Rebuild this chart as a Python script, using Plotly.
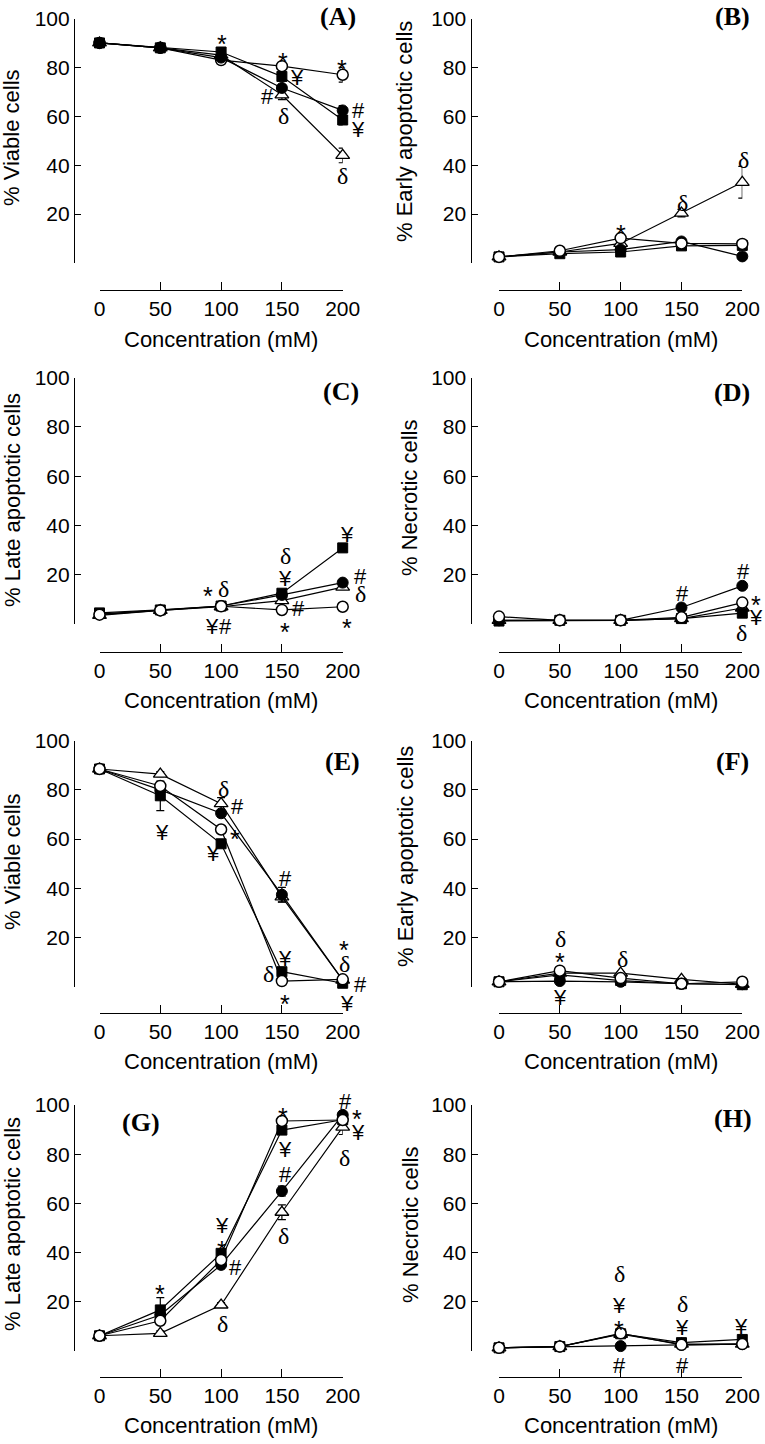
import plotly.graph_objects as go

W, H = 765, 1444

conc = [0, 50, 100, 150, 200]
ytick_vals = [0, 20, 40, 60, 80, 100]
ytick_text = ["", "20", "40", "60", "80", "100"]
xtick_text = ["0", "50", "100", "150", "200"]

# ---- values (open circle, filled circle, open triangle, filled square)
A_open = [90.0, 88.0, 83.0, 80.5, 77.0]
A_filled = [90.0, 88.0, 84.0, 71.6, 62.4]
A_tri = [90.0, 88.0, 85.0, 68.8, 44.0]
A_sq = [90.0, 88.0, 86.3, 76.3, 58.5]
A_err = dict(open=[0.5, 0.5, 0.5, 1.0, 3.0], filled=[0.5, 0.5, 0.5, 1.0, 2.0],
             tri=[0.5, 0.5, 0.5, 2.0, 3.0], sq=[0.5, 0.5, 1.0, 1.0, 2.0])

B_open = [2.5, 5.0, 10.2, 8.0, 7.8]
B_filled = [2.5, 4.5, 5.5, 8.8, 2.7]
B_tri = [2.5, 4.5, 8.0, 20.4, 33.0]
B_sq = [2.5, 3.8, 4.5, 7.0, 7.2]
B_err = dict(open=[0.3, 0.5, 1.0, 0.5, 1.0], filled=[0.3, 0.5, 0.5, 0.5, 0.5],
             tri=[0.3, 0.5, 1.0, 1.5, 6.5], sq=[0.3, 0.5, 0.5, 0.5, 0.5])

C_open = [3.8, 5.5, 7.2, 5.7, 7.0]
C_filled = [4.0, 5.5, 7.3, 11.8, 16.8]
C_tri = [3.5, 5.5, 7.0, 9.5, 15.0]
C_sq = [4.5, 5.7, 7.3, 12.5, 30.9]
C_err = dict(open=[0.5] * 5, filled=[0.5] * 5, tri=[0.5] * 5, sq=[0.5, 0.5, 0.5, 1.0, 1.0])

D_open = [3.0, 1.5, 1.5, 2.7, 8.7]
D_filled = [1.5, 1.5, 1.5, 6.7, 15.5]
D_tri = [1.5, 1.5, 1.5, 2.2, 6.5]
D_sq = [1.2, 1.5, 1.5, 2.2, 4.4]
D_err = dict(open=[0.5] * 5, filled=[0.5] * 5, tri=[0.5] * 5, sq=[0.5] * 5)

E_open = [88.5, 81.6, 63.9, 2.3, 3.0]
E_filled = [88.5, 80.0, 70.5, 37.4, 2.7]
E_tri = [88.5, 86.4, 74.4, 36.5, 2.7]
E_sq = [88.5, 77.6, 58.1, 6.1, 1.4]
E_err = dict(open=[0.5, 1.0, 1.0, 1.0, 1.0], filled=[0.5, 1.0, 1.0, 3.0, 1.0],
             tri=[0.5, 1.0, 2.5, 2.0, 2.0], sq=[0.5, 6.0, 1.0, 1.0, 1.0])

F_open = [2.0, 6.5, 3.5, 1.2, 2.0]
F_filled = [2.0, 2.3, 2.0, 1.2, 1.0]
F_tri = [2.0, 5.5, 5.5, 3.0, 1.0]
F_sq = [2.0, 4.8, 2.5, 1.2, 0.8]
F_err = dict(open=[0.5] * 5, filled=[0.5] * 5, tri=[0.5] * 5, sq=[0.5] * 5)

G_open = [6.2, 12.3, 37.0, 93.5, 93.9]
G_filled = [6.2, 14.6, 35.0, 65.0, 96.0]
G_tri = [6.2, 7.2, 18.7, 56.4, 91.0]
G_sq = [6.2, 16.7, 39.7, 89.8, 94.0]
G_err = dict(open=[0.5, 1.0, 1.0, 1.0, 1.0], filled=[0.5, 1.0, 1.5, 2.0, 1.0],
             tri=[0.5, 1.0, 1.0, 3.0, 3.0], sq=[0.5, 5.0, 1.0, 1.0, 1.0])

H_open = [1.3, 1.8, 7.2, 2.5, 2.8]
H_filled = [1.3, 1.8, 2.0, 2.5, 2.8]
H_tri = [1.3, 1.8, 6.8, 2.8, 2.8]
H_sq = [1.3, 1.8, 7.0, 3.4, 4.7]
H_err = dict(open=[0.5] * 5, filled=[0.5] * 5, tri=[0.5] * 5, sq=[0.5] * 5)

# significance symbols (concentration, value, symbol)
A_marks = [(100.5, 92.3, "*"), (150.7, 85.0, "*"), (162.5, 76.8, "¥"), (137.8, 69.0, "#"),
           (151.0, 60.4, "δ"), (199.5, 82.1, "*"), (212.7, 63.3, "#"), (212.7, 55.5, "¥"),
           (200.0, 35.9, "δ")]
B_marks = [(100.4, 14.9, "*"), (150.6, 25.1, "δ"), (200.8, 42.7, "δ")]
C_marks = [(89.3, 14.2, "*"), (101.6, 14.6, "δ"), (92.6, -0.4, "¥"), (103.3, -0.4, "#"),
           (152.6, 28.0, "δ"), (152.6, 19.1, "¥"), (163.3, 7.3, "#"), (152.6, -0.4, "*"),
           (203.6, 37.0, "¥"), (214.3, 19.9, "#"), (214.3, 12.6, "δ"), (203.6, 1.2, "*")]
D_marks = [(150.6, 13.0, "#"), (200.8, 22.3, "#"), (211.5, 10.6, "*"), (211.5, 3.5, "¥"),
           (199.2, -3.4, "δ")]
E_marks = [(51.4, 63.7, "¥"), (101.6, 80.8, "δ"), (113.1, 73.9, "#"), (93.4, 54.8, "¥"),
           (111.5, 62.9, "*"), (152.6, 44.6, "#"), (152.6, 12.1, "¥"), (138.6, 5.6, "δ"),
           (152.6, -4.2, "*"), (201.2, 17.8, "*"), (201.2, 9.8, "δ"), (214.3, 1.9, "#"),
           (203.6, -6.2, "¥")]
F_marks = [(50.2, 19.8, "δ"), (50.2, 12.9, "*"), (50.2, -3.4, "¥"), (101.2, 11.7, "δ")]
G_marks = [(49.8, 26.0, "*"), (100.8, 52.0, "¥"), (100.8, 43.9, "*"), (111.5, 34.6, "#"),
           (100.8, 11.4, "δ"), (151.0, 98.0, "*"), (152.6, 82.9, "¥"), (152.6, 72.4, "#"),
           (151.0, 47.2, "δ"), (201.9, 102.4, "#"), (211.8, 97.2, "*"), (212.7, 89.6, "¥"),
           (201.2, 78.9, "δ")]
H_marks = [(98.8, 31.7, "δ"), (98.8, 19.5, "¥"), (98.8, 11.4, "*"), (98.8, -4.9, "#"),
           (150.6, 19.5, "δ"), (150.6, 10.2, "¥"), (150.6, -4.9, "#"), (199.2, 10.6, "¥")]

panels = [
    dict(label="(A)", ytitle="% Viable cells", data=dict(open=A_open, filled=A_filled, tri=A_tri, sq=A_sq), err=A_err, marks=A_marks),
    dict(label="(B)", ytitle="% Early apoptotic cells", data=dict(open=B_open, filled=B_filled, tri=B_tri, sq=B_sq), err=B_err, marks=B_marks),
    dict(label="(C)", ytitle="% Late apoptotic cells", data=dict(open=C_open, filled=C_filled, tri=C_tri, sq=C_sq), err=C_err, marks=C_marks),
    dict(label="(D)", ytitle="% Necrotic cells", data=dict(open=D_open, filled=D_filled, tri=D_tri, sq=D_sq), err=D_err, marks=D_marks),
    dict(label="(E)", ytitle="% Viable cells", data=dict(open=E_open, filled=E_filled, tri=E_tri, sq=E_sq), err=E_err, marks=E_marks),
    dict(label="(F)", ytitle="% Early apoptotic cells", data=dict(open=F_open, filled=F_filled, tri=F_tri, sq=F_sq), err=F_err, marks=F_marks),
    dict(label="(G)", ytitle="% Late apoptotic cells", data=dict(open=G_open, filled=G_filled, tri=G_tri, sq=G_sq), err=G_err, marks=G_marks),
    dict(label="(H)", ytitle="% Necrotic cells", data=dict(open=H_open, filled=H_filled, tri=H_tri, sq=H_sq), err=H_err, marks=H_marks),
]

# ---- layout geometry (pixels)
col_geom = [dict(x0=99.5, x200=342.7, yline=74.0), dict(x0=499.0, x200=742.3, yline=470.5)]
row_geom = [dict(y100=18.5, y0=263.0, xline=290.0),
            dict(y100=377.7, y0=624.0, xline=651.7),
            dict(y100=740.7, y0=986.7, xline=1012.7),
            dict(y100=1105.0, y0=1351.0, xline=1376.7)]
label_pos = [(338, 16), (732, 16), (341, 391), (732, 392), (342, 762), (732, 762), (141, 1122), (733, 1118)]
ytitle_pos = [(12, 138), (404, 132), (12, 500), (410, 498), (12, 862), (405, 857), (12, 1224), (410, 1225)]

SANS = "Liberation Sans, Arial, Helvetica, sans-serif"
SERIF = "Liberation Serif, Times New Roman, serif"

styles = {
    "tri": dict(symbol="triangle-up", size=12, color="white", line=dict(color="black", width=1.3)),
    "open": dict(symbol="circle", size=11, color="white", line=dict(color="black", width=1.5)),
    "filled": dict(symbol="circle", size=11, color="black", line=dict(color="black", width=1)),
    "sq": dict(symbol="square", size=10, color="black", line=dict(color="black", width=1)),
}
orders = [["tri", "open", "filled", "sq"]] + [["tri", "filled", "sq", "open"]] * 7


def px_x(p):
    return p / W


def px_y(p):
    return 1 - p / H


fig = go.Figure()
layout = dict(width=W, height=H, template="none",
              margin=dict(l=0, r=0, t=0, b=0, pad=0, autoexpand=False),
              paper_bgcolor="white", plot_bgcolor="rgba(0,0,0,0)", showlegend=False,
              font=dict(family=SANS, color="black"))
annotations = []

for i, p in enumerate(panels):
    n = i + 1
    r, c = divmod(i, 2)
    cg, rg = col_geom[c], row_geom[r]
    xname = "x" if n == 1 else f"x{n}"
    yname = "y" if n == 1 else f"y{n}"
    xkey = "xaxis" if n == 1 else f"xaxis{n}"
    ykey = "yaxis" if n == 1 else f"yaxis{n}"
    xscale = (cg["x200"] - cg["x0"]) / 200.0   # px per mM
    yscale = (rg["y0"] - rg["y100"]) / 100.0   # px per %

    layout[xkey] = dict(domain=[px_x(cg["x0"]), px_x(cg["x200"])], range=[0, 200],
                        anchor="free", position=px_y(rg["xline"]), automargin=False,
                        tickvals=conc, ticktext=xtick_text, ticks="inside", ticklen=8,
                        tickwidth=1.2, tickcolor="black", showline=True, linewidth=1.2,
                        linecolor="black", showgrid=False, zeroline=False,
                        tickfont=dict(family=SANS, size=21, color="black"))
    layout[ykey] = dict(domain=[px_y(rg["y0"]), px_y(rg["y100"])], range=[0, 100],
                        anchor="free", position=px_x(cg["yline"]), automargin=False,
                        tickvals=ytick_vals, ticktext=ytick_text, ticks="inside", ticklen=6,
                        tickwidth=1.2, tickcolor="black", showline=True, linewidth=1.2,
                        linecolor="black", showgrid=False, zeroline=False,
                        tickfont=dict(family=SANS, size=21, color="black"))

    for key in orders[i]:
        fig.add_trace(go.Scatter(
            x=conc, y=p["data"][key], mode="lines+markers", xaxis=xname, yaxis=yname,
            line=dict(color="black", width=1.2), marker=styles[key], cliponaxis=False,
            error_y=dict(type="data", array=p["err"][key], visible=True, color="black",
                         thickness=1.2, width=4),
            showlegend=False, hoverinfo="skip"))

    for (mx, my, s) in p["marks"]:
        if s == "δ":
            f = dict(family=SERIF, size=24, color="black")
            ys = -1
        elif s == "*":
            f = dict(family=SANS, size=25, color="black")
            ys = -7
        else:
            f = dict(family=SANS, size=22, color="black")
            ys = -2
        # keep anchor inside the axis range, express the overflow as a pixel shift
        cx = min(max(mx, 0), 200)
        cy = min(max(my, 0), 100)
        xs = (mx - cx) * xscale
        ys = ys + (my - cy) * yscale
        annotations.append(dict(x=cx, y=cy, xref=xname, yref=yname, text=s, showarrow=False,
                                font=f, xanchor="center", yanchor="middle",
                                xshift=xs, yshift=ys))

    lx, ly = label_pos[i]
    annotations.append(dict(x=px_x(lx), y=px_y(ly), xref="paper", yref="paper", text=f"<b>{p['label']}</b>",
                            showarrow=False, font=dict(family=SERIF, size=26, color="black"),
                            xanchor="center", yanchor="middle"))
    tx, ty = ytitle_pos[i]
    annotations.append(dict(x=px_x(tx), y=px_y(ty), xref="paper", yref="paper", text=p["ytitle"],
                            textangle=-90, showarrow=False, font=dict(family=SANS, size=22, color="black"),
                            xanchor="center", yanchor="middle"))
    annotations.append(dict(x=px_x((cg["x0"] + cg["x200"]) / 2), y=px_y(rg["xline"] + 49),
                            xref="paper", yref="paper", text="Concentration (mM)", showarrow=False,
                            font=dict(family=SANS, size=22, color="black"),
                            xanchor="center", yanchor="middle"))

layout["annotations"] = annotations
fig.update_layout(**layout)
fig.write_html("out.html", config={"displayModeBar": False},
               post_script="document.body.style.margin='0';document.body.style.overflow='hidden';")
